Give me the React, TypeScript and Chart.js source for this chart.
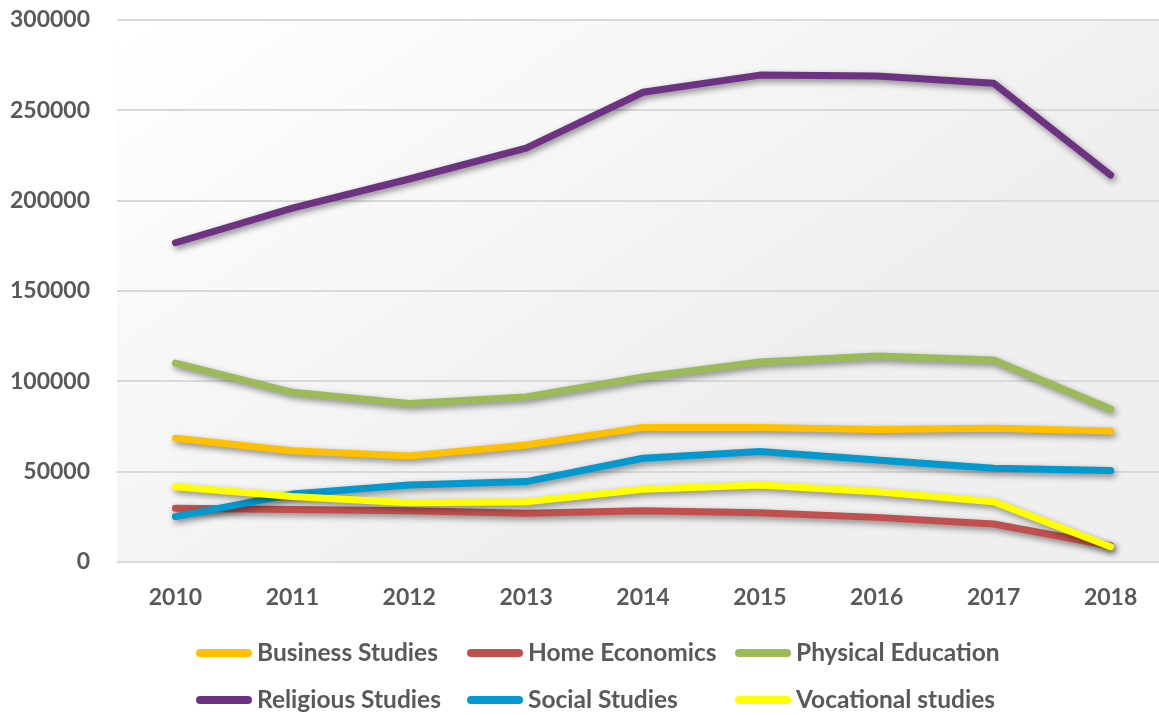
import React, { useEffect, useRef } from "react";
import { Chart, registerables } from "chart.js";

Chart.register(...registerables);

const years = ["2010", "2011", "2012", "2013", "2014", "2015", "2016", "2017", "2018"];
const businessStudies = [68500, 61600, 58700, 64800, 74500, 74500, 73400, 74000, 72500];
const homeEconomics = [29700, 29100, 28400, 27000, 28400, 27300, 24700, 21000, 9000];
const physicalEducation = [110100, 93900, 87700, 91400, 102400, 110700, 114000, 111800, 84700];
const religiousStudies = [176700, 195900, 212000, 229100, 260000, 269500, 269000, 265000, 214200];
const socialStudies = [25100, 37600, 42600, 44500, 57400, 61100, 56500, 51900, 50600];
const vocationalStudies = [41700, 36200, 32800, 33400, 40200, 42600, 38900, 33400, 8500];

const seriesNames = [
  "Business Studies",
  "Home Economics",
  "Physical Education",
  "Religious Studies",
  "Social Studies",
  "Vocational studies",
];
const seriesValues = [
  businessStudies,
  homeEconomics,
  physicalEducation,
  religiousStudies,
  socialStudies,
  vocationalStudies,
];
const seriesColors = ["#FFC000", "#C0504D", "#9BBB59", "#6E3282", "#0398CE", "#FFFF00"];

const TEXT = "#595959";
const FONT = "Lato, 'Liberation Sans', sans-serif";

const bgPlugin = {
  id: "plotBg",
  beforeDraw(chart: any) {
    const { ctx, chartArea } = chart;
    const { left, top, right, bottom } = chartArea;
    const g = ctx.createLinearGradient(left, top, left + (right - left) * 0.35, bottom);
    g.addColorStop(0, "#ffffff");
    g.addColorStop(1, "#efefef");
    ctx.save();
    ctx.fillStyle = g;
    ctx.fillRect(left, top, right - left, bottom - top);
    ctx.restore();
  },
};

const shadowPlugin = {
  id: "lineShadow",
  beforeDatasetsDraw(chart: any) {
    const ctx = chart.ctx;
    ctx.save();
    ctx.shadowColor = "rgba(0,0,0,0.45)";
    ctx.shadowBlur = 6;
    ctx.shadowOffsetX = 2;
    ctx.shadowOffsetY = 3;
  },
  afterDatasetsDraw(chart: any) {
    chart.ctx.restore();
  },
};

const legendPlugin = {
  id: "gridLegend",
  afterDraw(chart: any) {
    const ctx = chart.ctx;
    const colX = [200, 471, 739];
    const rowY = [653, 700];
    ctx.save();
    ctx.font = `bold 24.5px ${FONT}`;
    ctx.textBaseline = "middle";
    ctx.textAlign = "left";
    chart.data.datasets.forEach((ds: any, i: number) => {
      const x = colX[i % 3];
      const y = rowY[Math.floor(i / 3)];
      ctx.strokeStyle = ds.borderColor;
      ctx.lineWidth = 8;
      ctx.lineCap = "round";
      ctx.beginPath();
      ctx.moveTo(x, y);
      ctx.lineTo(x + 48, y);
      ctx.stroke();
      ctx.fillStyle = TEXT;
      ctx.fillText(ds.label, x + 57, y);
    });
    ctx.restore();
  },
};

export default function App() {
  const ref = useRef<HTMLCanvasElement>(null);
  useEffect(() => {
    document.body.style.margin = "0";
    document.body.style.overflow = "hidden";
    const chart = new Chart(ref.current as HTMLCanvasElement, {
      type: "line",
      data: {
        labels: years,
        datasets: seriesNames.map((name, i) => ({
          label: name,
          data: seriesValues[i],
          borderColor: seriesColors[i],
          backgroundColor: seriesColors[i],
          borderWidth: 7,
          borderCapStyle: "round",
          borderJoinStyle: "round",
          pointRadius: 0,
          tension: 0,
          fill: false,
          order: seriesNames.length - i,
        })),
      },
      options: {
        responsive: false,
        animation: false,
        layout: { padding: { left: 10, right: 0, top: 20, bottom: 103 } },
        plugins: { legend: { display: false }, tooltip: { enabled: false } },
        scales: {
          x: {
            offset: true,
            grid: { display: false, drawTicks: false },
            border: { display: false },
            ticks: {
              color: TEXT,
              font: { family: FONT, size: 23, weight: "bold" },
              padding: 22,
              maxRotation: 0,
            },
            afterFit: (s: any) => {
              s.height = 50;
              s.paddingLeft = 0;
              s.paddingRight = 0;
            },
          },
          y: {
            min: 0,
            max: 300000,
            grid: { color: "#d9d9d9", lineWidth: 2, drawTicks: false },
            border: { display: false },
            ticks: {
              stepSize: 50000,
              color: TEXT,
              font: { family: FONT, size: 23, weight: "bold" },
              padding: 27,
              callback: (v: any) => String(v),
            },
            afterFit: (s: any) => {
              s.width = 107;
              s.paddingTop = 0;
              s.paddingBottom = 0;
            },
          },
        },
      } as any,
      plugins: [bgPlugin, shadowPlugin, legendPlugin],
    });
    return () => chart.destroy();
  }, []);
  return (
    <div style={{ width: 1159, height: 715, overflow: "hidden" }}>
      <canvas ref={ref} width={1169} height={715} style={{ display: "block" }} />
    </div>
  );
}
